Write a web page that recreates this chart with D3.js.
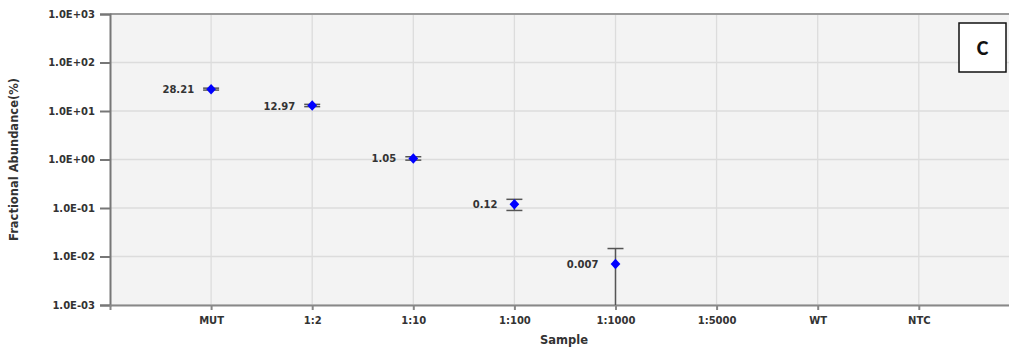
<!DOCTYPE html>
<html>
<head>
<meta charset="utf-8">
<script src="https://cdn.jsdelivr.net/npm/d3@7"></script>
<style>
  body { margin: 0; background: #fff; }
  text { font-family: "DejaVu Sans", Verdana, sans-serif; font-weight: bold; }
</style>
</head>
<body>
<div id="chart"></div>
<script>
// chart data
var samples = ['MUT', '1:2', '1:10', '1:100', '1:1000', '1:5000', 'WT', 'NTC'];
var values = [28.21, 12.97, 1.05, 0.12, 0.007];
var labels = ['28.21', '12.97', '1.05', '0.12', '0.007'];
var errLow = [27.0, 12.3, 0.97, 0.089, 0.0005];
var errHigh = [29.6, 13.7, 1.14, 0.151, 0.0146];
var yTicks = [1e3, 1e2, 1e1, 1e0, 1e-1, 1e-2, 1e-3];
var yTickLabels = ['1.0E+03', '1.0E+02', '1.0E+01', '1.0E+00', '1.0E-01', '1.0E-02', '1.0E-03'];

var W = 1009, H = 350;
var plot = { left: 110, top: 14, right: 1030, bottom: 305 };

var svg = d3.select('#chart').append('svg')
  .attr('width', W)
  .attr('height', H);

// x: sample index, one step ~101px
var x = d3.scaleLinear().domain([-1, 8.1]).range([plot.left, plot.right]);
var y = d3.scaleLog().domain([1e-3, 1e3]).range([plot.bottom, plot.top]);

// plot background
svg.append('rect')
  .attr('x', plot.left)
  .attr('y', plot.top)
  .attr('width', plot.right - plot.left)
  .attr('height', plot.bottom - plot.top)
  .attr('fill', '#f3f3f3');

// grid lines
svg.selectAll('.hgrid').data(yTicks).enter().append('line')
  .attr('class', 'hgrid')
  .attr('x1', plot.left).attr('x2', plot.right)
  .attr('y1', function(d){ return y(d); })
  .attr('y2', function(d){ return y(d); })
  .attr('stroke', '#dcdcdc')
  .attr('stroke-width', 1.3);

svg.selectAll('.vgrid').data(samples).enter().append('line')
  .attr('class', 'vgrid')
  .attr('x1', function(d, i){ return x(i); })
  .attr('x2', function(d, i){ return x(i); })
  .attr('y1', plot.top).attr('y2', plot.bottom)
  .attr('stroke', '#dcdcdc')
  .attr('stroke-width', 1.3);

// top border
svg.append('line')
  .attr('x1', plot.left).attr('x2', plot.right)
  .attr('y1', plot.top).attr('y2', plot.top)
  .attr('stroke', '#999').attr('stroke-width', 2);

// y axis
var yAxis = d3.axisLeft(y)
  .tickValues(yTicks)
  .tickSize(10)
  .tickPadding(5)
  .tickFormat(function(d, i){ return yTickLabels[i]; });

var gy = svg.append('g')
  .attr('transform', 'translate(' + plot.left + ',0)')
  .call(yAxis);
gy.select('.domain').attr('stroke', '#777').attr('stroke-width', 2);
gy.selectAll('.tick line').attr('stroke', '#777').attr('stroke-width', 2);
gy.selectAll('.tick text')
  .attr('fill', '#333')
  .style('font-size', '10px');

// x axis
var xAxis = d3.axisBottom(x)
  .tickValues(d3.range(samples.length))
  .tickSize(5)
  .tickPadding(7)
  .tickFormat(function(d){ return samples[d]; });

var gx = svg.append('g')
  .attr('transform', 'translate(0,' + plot.bottom + ')')
  .call(xAxis);
gx.select('.domain').attr('stroke', '#888').attr('stroke-width', 2);
gx.selectAll('.tick line').attr('stroke', '#888').attr('stroke-width', 2);
gx.selectAll('.tick text')
  .attr('fill', '#333')
  .style('font-size', '10px');

// error bars
var pts = values.map(function(v, i){
  return { i: i, v: v, lo: errLow[i], hi: errHigh[i], label: labels[i] };
});

var clipY = function(v){ return Math.min(plot.bottom, y(v)); };

svg.selectAll('.err').data(pts).enter().append('line')
  .attr('class', 'err')
  .attr('x1', function(d){ return x(d.i); })
  .attr('x2', function(d){ return x(d.i); })
  .attr('y1', function(d){ return clipY(d.lo); })
  .attr('y2', function(d){ return clipY(d.hi); })
  .attr('stroke', '#555')
  .attr('stroke-width', 1.5);

['lo', 'hi'].forEach(function(k){
  svg.selectAll('.cap-' + k).data(pts.filter(function(d){ return y(d[k]) <= plot.bottom; }))
    .enter().append('line')
    .attr('class', 'cap-' + k)
    .attr('x1', function(d){ return x(d.i) - 8; })
    .attr('x2', function(d){ return x(d.i) + 8; })
    .attr('y1', function(d){ return y(d[k]); })
    .attr('y2', function(d){ return y(d[k]); })
    .attr('stroke', '#555')
    .attr('stroke-width', 1.5);
});

// diamond markers
var diamond = d3.symbol().type(d3.symbolDiamond).size(32);
svg.selectAll('.pt').data(pts).enter().append('path')
  .attr('class', 'pt')
  .attr('d', diamond)
  .attr('transform', function(d){ return 'translate(' + x(d.i) + ',' + y(d.v) + ') scale(1.6,1)'; })
  .attr('fill', '#0000ff');

// value labels
svg.selectAll('.vlab').data(pts).enter().append('text')
  .attr('class', 'vlab')
  .attr('x', function(d){ return x(d.i) - 17; })
  .attr('y', function(d){ return y(d.v) + 4; })
  .attr('text-anchor', 'end')
  .attr('fill', '#333')
  .style('font-size', '10px')
  .text(function(d){ return d.label; });

// axis titles
svg.append('text')
  .attr('transform', 'translate(18,' + ((plot.top + plot.bottom) / 2) + ') rotate(-90)')
  .attr('text-anchor', 'middle')
  .attr('fill', '#333')
  .style('font-size', '11.5px')
  .text('Fractional Abundance(%)');

svg.append('text')
  .attr('x', 564)
  .attr('y', 344)
  .attr('text-anchor', 'middle')
  .attr('fill', '#333')
  .style('font-size', '11.5px')
  .text('Sample');

// panel letter box
svg.append('rect')
  .attr('x', 959).attr('y', 23)
  .attr('width', 47).attr('height', 49)
  .attr('fill', '#fff')
  .attr('stroke', '#111')
  .attr('stroke-width', 1.5);

svg.append('text')
  .attr('x', 982.5).attr('y', 55)
  .attr('text-anchor', 'middle')
  .attr('fill', '#111')
  .style('font-family', 'Calibri, Carlito, "Open Sans", sans-serif')
  .style('font-size', '22px')
  .text('C');
</script>
</body>
</html>
